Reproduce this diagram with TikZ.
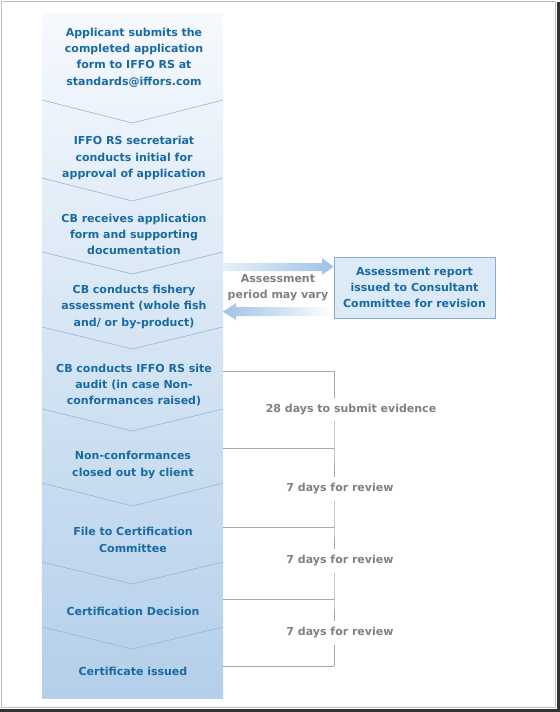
\documentclass[tikz,border=0pt]{standalone}
\usepackage{fontspec}
\setmainfont{DejaVu Sans}
\definecolor{mainblue}{RGB}{24,106,164}
\definecolor{graytext}{RGB}{128,128,128}
\definecolor{bracketgray}{RGB}{168,168,168}
\definecolor{coltop}{RGB}{246,249,253}
\definecolor{colmid}{RGB}{212,228,244}
\definecolor{colbot}{RGB}{180,207,234}
\definecolor{sepcol}{RGB}{150,182,214}
\definecolor{arrowblue}{RGB}{158,194,230}
\definecolor{boxfill}{RGB}{220,233,246}
\definecolor{boxborder}{RGB}{135,173,212}
\definecolor{framegray}{RGB}{190,190,190}
\begin{document}
\begin{tikzpicture}[x=1bp,y=-1bp,
  stepnode/.style={font=\bfseries\fontsize{11bp}{16.3bp}\selectfont, text=mainblue, align=center, inner sep=0pt},
  graynote/.style={font=\bfseries\fontsize{11bp}{16bp}\selectfont, text=graytext, align=center, inner sep=0pt, text height=8bp, text depth=2.5bp},
  sepline/.style={draw=sepcol, line width=0.6bp},
  bracket/.style={draw=bracketgray, line width=0.9bp}]
\useasboundingbox (0,0) rectangle (560,712);
\fill[white] (0,0) rectangle (560,712);
% frame
\draw[framegray, line width=1bp] (1.5,1.5) rectangle (555.5,707.5);
\fill[black!80] (557,2) rectangle (560,712);
\fill[black!80] (0,709) rectangle (560,712);
% column
\node[minimum width=181bp, minimum height=684bp, inner sep=0pt, outer sep=0pt,
  top color=coltop, bottom color=colbot, middle color=colmid] (col) at (132.5,356) {};
% separators
\foreach \a/\b in {100/123,178/201,252/274,327/349,409/431,483/506,562/584,627/649}{
  \draw[sepline] (42,\a) -- (132.5,\b) -- (223,\a);
}
% step texts
\node[stepnode] (s1) at (134,57.5) {Applicant submits the\\completed application\\form to IFFO RS at\\standards@iffors.com};
\node[stepnode] (s2) at (134,158) {IFFO RS secretariat\\conducts initial for\\approval of application};
\node[stepnode] (s3) at (134,234.5) {CB receives application\\form and supporting\\documentation};
\node[stepnode] (s4) at (134,307) {CB conducts fishery\\assessment (whole fish\\and/ or by-product)};
\node[stepnode] (s5) at (134,385) {CB conducts IFFO RS site\\audit (in case Non-\\conformances raised)};
\node[stepnode] (s6) at (133,465) {Non-conformances\\closed out by client};
\node[stepnode] (s7) at (133,540) {File to Certification\\Committee};
\node[stepnode] (s8) at (133,611) {Certification Decision};
\node[stepnode] (s9) at (133,671) {Certificate issued};
% assessment box
\node[stepnode, draw=boxborder, line width=0.9bp, fill=boxfill, minimum width=161bp, minimum height=61bp] (box) at (414.5,287.5) {Assessment report\\issued to Consultant\\Committee for revision};
\node[stepnode, text=graytext] (period) at (278,288) {Assessment\\period may vary};
% helper y levels
\coordinate (ya) at (0,263);
\coordinate (yb) at (0,266.7);
\coordinate (yc) at (0,271);
\coordinate (yd) at (0,307);
\coordinate (ye) at (0,311.7);
\coordinate (yf) at (0,316);
% block arrows
\shade[left color=arrowblue!25, right color=arrowblue]
  (col.east|-ya) -- (322,263) -- (322,258) -- (box.west|-yb) -- (322,275) -- (322,271) -- (col.east|-yc) -- cycle;
\shade[left color=arrowblue, right color=white]
  (box.west|-yd) -- (236,307) -- (236,303) -- (col.east|-ye) -- (236,320) -- (236,316) -- (box.west|-yf) -- cycle;
% brackets
\coordinate (b1) at (334,371);
\coordinate (b2) at (334,448);
\coordinate (b3) at (334,527);
\coordinate (b4) at (334,599);
\coordinate (b5) at (334,666);
\node[graynote] (l1) at (351,409.5) {28 days to submit evidence};
\node[graynote] (l2) at (340,489) {7 days for review};
\node[graynote] (l3) at (340,561) {7 days for review};
\node[graynote] (l4) at (340,633) {7 days for review};
\foreach \c in {b1,b2,b3,b4,b5}{
  \draw[bracket] (col.east|-\c) -- (\c);
}
\draw[bracket] (b1) -- ([yshift=6bp]b1|-l1.north);
\draw[bracket] ([yshift=-6bp]b1|-l1.south) -- (b2) -- ([yshift=7bp]b2|-l2.north);
\draw[bracket] ([yshift=-7bp]b2|-l2.south) -- (b3) -- ([yshift=7bp]b3|-l3.north);
\draw[bracket] ([yshift=-7bp]b3|-l3.south) -- (b4) -- ([yshift=7bp]b4|-l4.north);
\draw[bracket] ([yshift=-7bp]b4|-l4.south) -- (b5);
\end{tikzpicture}
\end{document}
